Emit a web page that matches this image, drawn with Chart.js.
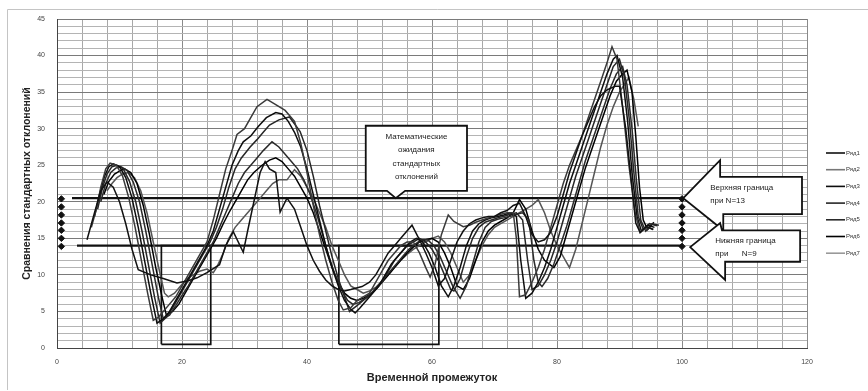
<!DOCTYPE html>
<html>
<head>
<meta charset="utf-8">
<script src="https://cdn.jsdelivr.net/npm/chart.js@4/dist/chart.umd.min.js"></script>
<style>
  html, body { margin: 0; padding: 0; background: #fff; }
</style>
</head>
<body>
<canvas id="myChart" width="868" height="391"></canvas>
<script>
// series as [x, y]
const ryad1 = [[4.8,14.8],[6,18.5],[7,21.5],[8,22.7],[9,22],[10,20],[11,17],[12,13.5],[13,10.7],[15,10],[17,9.5],[19.2,8.9],[21,9.2],[22.4,9.6],[24,10.3],[26,11.4],[27,14],[28.2,15.9],[29.8,13.1],[30.5,16],[31.5,20],[32.5,24],[33.3,25.5],[34,24.5],[35,24],[35.7,18.6],[36.8,20.5],[38,19],[39,16.5],[40,14],[41,12],[42,10.5],[43,9.3],[44,8.5],[45,8],[46,7.8],[47,8],[48.8,8.4],[50,9],[51,10],[52,11.5],[53,13],[54,14],[55,15],[56.8,16.8],[58,14.8],[59,13],[60,11],[61,8.5],[62,9.5],[63,12],[64,14.5],[65,16],[66,17],[67,17.5],[68,17.8],[69,18],[70,18],[71,18.5],[72,18.8],[73,19.5],[74,19.8],[75,18],[76,15.5],[77,14.5],[78,14.8],[78.9,15.7],[80,18],[81,21],[82,24],[83,26.5],[84,29],[85,31],[86,33],[87,34.5],[88,35.3],[89.3,35.8],[90,35.8],[91,30],[92,22],[92.6,17.1],[93.3,15.8],[94.3,16.6],[95.4,16.2]];
const ryad2 = [[5.5,16.5],[6.3,19],[7,22],[7.8,24.5],[8.5,25.3],[9.5,25],[10.5,23.5],[11.5,20.5],[12.5,16.5],[13.5,12],[14.5,7.5],[15.4,3.8],[16.2,4.2],[17,5],[18,6],[19,7],[20,8.5],[21,10],[22,11.5],[23,13],[24,14.5],[25,17.5],[26,21],[27,24.5],[28,27],[28.8,29.2],[30,30],[31,31.5],[32,33],[33.6,34],[35,33.3],[36.5,32.5],[38,31],[39,28],[40,24],[41,19.5],[42,15.5],[43,12],[44,9],[45,6.5],[45.8,5.2],[47,5.5],[48,6.5],[49,7],[50,7.5],[51,9],[52,10.5],[53,12],[54,13],[55,14],[56,14.5],[57,14.5],[58,13],[59,11],[59.7,9.7],[60.5,11.5],[61.5,15.5],[62.6,18.2],[63.5,17.3],[65,16.6],[66,16.8],[67,17.2],[68,17.5],[69,17.8],[70,18],[71,18.3],[72,18.5],[73,18.5],[73.5,15],[74,7],[75,7.3],[76,9],[77,11],[78,13.5],[79,16.5],[80,19.5],[81,22.5],[82,25],[83,27],[84,29],[85,31.5],[86,34],[87,36.5],[88,39],[88.8,41.2],[89.6,39.5],[90.5,33],[91.5,25],[92.5,18.5],[93.3,15.8],[94.3,16.6],[95.4,16.2]];
const ryad3 = [[6,18],[6.8,21],[7.6,23.5],[8.3,24.8],[9,25.2],[10,24.8],[11,23.3],[12,20.5],[13,16.5],[14,12],[15,7.5],[16,3.4],[17,4],[18,5],[19,6.5],[20,8],[21,9.5],[22,11],[23,12.5],[24,14],[25,16],[26,19],[27,22],[28,25],[29,27],[29.8,28.2],[31,29],[32.2,30.3],[33.5,31.5],[35,32.2],[36,32],[37,31],[38,29.5],[39,27.5],[40,24.5],[41,21],[42,17.5],[43,14],[44,11],[45,8.5],[46,6.5],[47,5.3],[47.7,4.8],[48.5,5.5],[49.5,6.5],[50.5,7.5],[51.5,8.5],[52.5,10],[53.5,11.5],[54.5,12.5],[55.5,13.5],[56.5,14.5],[57.5,15],[58.5,14.5],[59.5,13],[60.5,11],[61.5,8.5],[62.6,7],[63.5,8.5],[64.5,11],[65.5,14],[66.5,16],[67.5,17],[68.5,17.5],[69.5,17.8],[70.5,18],[71.5,18.2],[72.5,18.5],[73.5,18],[74.2,12],[75,6.8],[76,7.5],[77,9],[78,11],[79,13.5],[80,16.5],[81,19.5],[82,22.5],[83,25],[84,27.5],[85,30],[86,32.5],[87,35],[88,37.5],[89,39.5],[89.6,40],[90.5,37],[91.3,31],[92,24],[92.8,18],[93.5,16],[94.5,16.8],[95.6,16.5]];
const ryad4 = [[6.5,19],[7.3,22],[8,23.8],[8.8,24.8],[9.6,25],[10.6,24.5],[11.6,22.8],[12.6,20],[13.6,16],[14.6,11.5],[15.6,7],[16.5,3.4],[17.5,4.2],[18.5,5.5],[19.5,7],[20.5,8.5],[21.5,10],[22.5,11.5],[23.5,13],[24.5,14.5],[25.5,16.5],[26.5,19],[27.5,22],[28.5,24.5],[29.5,26],[30.9,27.5],[32,28.5],[33,29.5],[34,30.5],[35.5,31.2],[37.2,31.6],[38.9,29.6],[40,27],[41,23.5],[42,19.5],[43,16],[44,12.5],[45,9.5],[46,7],[46.8,5],[48,5.8],[49,6.5],[50,7.2],[51,8],[52,9],[53,10.5],[54,12],[55,13],[56,14],[57,14.5],[58,15],[59,14.5],[60,13.5],[61,12],[62,10],[63,8],[63.5,7.8],[64.5,9.5],[65.5,12.5],[66.5,15],[67.5,16.5],[68.5,17.2],[69.5,17.5],[70.5,17.8],[71.5,18],[72.5,18.3],[73.5,18.5],[74.5,17.5],[75.3,12],[76,8],[77,8.5],[78,10],[79,12],[80,14.5],[81,17.5],[82,20.5],[83,23.5],[84,26],[85,28.5],[86,31],[87,33.5],[88,36],[89,38.5],[90,39.5],[90.8,37],[91.6,31],[92.3,24],[93,18],[93.8,16.2],[94.8,17],[96,16.7]];
const ryad5 = [[7,20],[7.8,22.5],[8.6,24],[9.4,24.6],[10.2,24.8],[11.2,24.3],[12.2,22.7],[13.2,20],[14.2,16],[15.2,11.5],[16.2,7],[17,4],[18,4.5],[19,5.8],[20,7.2],[21,8.5],[22,10],[23,11.5],[24,13],[25,14.5],[26,16.5],[27,18.5],[28,20.5],[29,22.5],[30,24],[31,25],[32,26],[33,27],[34.4,28.2],[35.5,27.5],[36.5,26.5],[37.5,25.5],[38.5,24.5],[39.5,23],[40.5,21],[41.5,18.5],[42.5,15.5],[43.5,12.5],[44.5,10],[45.5,8],[46.5,6.5],[47.3,6],[48.3,6.2],[49.3,6.8],[50.3,7.5],[51.3,8.5],[52.3,9.5],[53.3,10.5],[54.3,11.5],[55.3,12.5],[56.3,13.5],[57.3,14.2],[58.3,14.8],[59.3,14.8],[60.3,14],[61.3,12.5],[62.3,10.5],[63.3,8.5],[64.5,6.8],[65.5,8.5],[66.5,11.5],[67.5,14.5],[68.5,16.5],[69.5,17.3],[70.5,17.6],[71.5,17.8],[72.5,18],[73.5,18.3],[74.5,18.5],[75.5,17.5],[76.3,12],[77,9],[77.6,8.4],[78.5,9.5],[79.5,11.5],[80.5,14],[81.5,16.5],[82.5,19.5],[83.5,22.5],[84.5,25.5],[85.5,28],[86.5,30.5],[87.5,33],[88.5,35.5],[89.5,37.5],[90.5,38.5],[91.2,36],[92,30],[92.7,23],[93.4,17.5],[94.2,16],[95.2,17],[96.3,16.8]];
const ryad6 = [[7.5,21],[8.3,22.8],[9.2,23.8],[10,24.2],[10.8,24.5],[11.8,24],[12.8,22.5],[13.8,19.5],[14.8,15.5],[15.8,11],[16.8,7],[17.5,4.5],[18.5,5],[19.5,6],[20.5,7.5],[21.5,9],[22.5,10.5],[23.5,12],[24.5,13.5],[25.5,15],[26.6,17],[27.5,18.5],[28.5,20],[29.5,21.5],[30.5,23],[31.5,24],[32.8,25],[34,25.7],[35,26],[36,25.5],[37,24.5],[38,23.5],[39,22],[40,20.5],[41,18.5],[42,16],[43,13.5],[44,11],[45,9],[46,7.5],[47,6.8],[48,6.5],[49,6.8],[50,7.3],[51,8],[52,9],[53,10],[54,11],[55,12],[56,13],[57,13.8],[58,14.5],[59,14.8],[60,15],[61,14.5],[62,13],[63,11],[64,8.5],[65,8],[66,9.5],[67,12],[68,14.5],[69,16],[70,16.8],[71,17.3],[72,17.8],[73,18.5],[74,20.3],[75,19],[76,16],[77,13.5],[78,12],[79.5,11],[80.5,12.5],[81.5,15.5],[82.5,18.5],[83.5,21.5],[84.5,24.5],[85.5,27],[86.5,29.5],[87.5,32],[88.5,34.5],[89.5,36.5],[90.5,37.5],[91.2,38],[92,35],[92.6,29],[93.2,22],[93.8,17.5],[94.5,16.2],[95.5,17.2]];
const ryad7 = [[8,21.5],[8.8,22.5],[9.6,23.3],[10.5,23.8],[11.4,24],[12.4,23.3],[13.4,21.5],[14.4,18.5],[15.4,14.5],[16.4,10.5],[17.2,7.5],[17.8,7],[18.8,7.5],[19.8,8.5],[20.8,9.5],[21.8,10],[22.8,10.5],[24,10.8],[25,10.3],[25.6,11.1],[26.6,13],[27.5,15],[28.5,16.5],[29.5,17.5],[30.5,18.5],[31.5,19.5],[32.5,20.5],[33.5,21.5],[34.5,22.5],[35.5,23],[36.8,23],[38,24.4],[39,23.5],[40,22],[41,20.5],[42,18.5],[43,16.5],[44,14],[45,12],[46,10],[47,8.5],[48,8],[49,7.5],[50,7.8],[51,8.3],[52,9],[53,10],[54,11],[55,12],[56,12.8],[57,13.5],[58,14],[59,14.5],[60,15],[61,15.3],[62,14.5],[63,13],[64,11],[65,9],[66,10],[67,12],[68,14],[69,15.5],[70,16.5],[71,17],[72,17.5],[73,18],[74,18.5],[75,19],[76,19.5],[77,20.3],[78,18.5],[79,16],[80,14],[81,12.5],[82,11],[83,13.5],[84,17],[85,20.5],[86,24],[87,27.5],[88,30.5],[89,33],[90,35],[91.5,37],[92.3,34],[93,30.3]];

const seriesNames = ['Ряд1', 'Ряд2', 'Ряд3', 'Ряд4', 'Ряд5', 'Ряд6', 'Ряд7'];
const seriesColors = ['#111', '#3a3a3a', '#0d0d0d', '#262626', '#2a2a2a', '#000', '#555'];

// bounds and boxes
const upperBound = [[2.4,20.5],[100,20.5]];
const lowerBound = [[3.2,14],[100,14]];
const boxLeft = [[16.7,0.5],[16.7,14],[24.6,14],[24.6,0.5],[16.7,0.5]];
const boxMid = [[45.1,0.5],[45.1,14],[61.1,14],[61.1,0.5],[45.1,0.5]];
const diamondX = [0.7, 100];
const diamondY = [13.9, 15, 16.1, 17.1, 18.2, 19.3, 20.4];

const calloutText = ['Математические', 'ожидания', 'стандартных', 'отклонений'];
const upperText = ['Верхняя граница', 'при N=13'];
const lowerText = ['Нижняя граница', 'при      N=9'];

const font = '"Liberation Sans", Arial, sans-serif';

function pts(arr) {
  return arr.map(p => ({x: p[0], y: p[1]}))
}

let datasets = []
const allSeries = [ryad1, ryad2, ryad3, ryad4, ryad5, ryad6, ryad7]
for (let i = 0; i < allSeries.length; i++) {
  datasets.push({
    label: seriesNames[i],
    data: pts(allSeries[i]),
    borderColor: seriesColors[i],
    borderWidth: 1.5,
    pointRadius: 0,
    tension: 0,
    fill: false
  })
}
const extra = [upperBound, lowerBound, boxLeft, boxMid]
for (let i = 0; i < extra.length; i++) {
  datasets.push({
    label: '',
    data: pts(extra[i]),
    borderColor: '#111',
    borderWidth: i < 2 ? 2.3 : 1.7,
    pointRadius: 0,
    tension: 0,
    fill: false
  })
}
let diamonds = []
diamondX.forEach(x => diamondY.forEach(y => diamonds.push({x: x, y: y})))
datasets.push({
  type: 'scatter',
  label: '',
  data: diamonds,
  pointStyle: 'rectRot',
  pointRadius: 3.2,
  backgroundColor: '#111',
  borderColor: '#111',
  borderWidth: 1,
  clip: false
})

function pathOf(ctx, X, Y, list) {
  ctx.beginPath()
  list.forEach((p, i) => {
    if (i === 0) ctx.moveTo(X(p[0]), Y(p[1]))
    else ctx.lineTo(X(p[0]), Y(p[1]))
  })
  ctx.closePath()
  ctx.fillStyle = '#fff'
  ctx.fill()
  ctx.strokeStyle = '#111'
  ctx.lineWidth = 1.8
  ctx.stroke()
}

const decor = {
  id: 'decor',
  beforeDraw(chart) {
    const ctx = chart.ctx
    ctx.save()
    ctx.strokeStyle = '#c4c4c4'
    ctx.lineWidth = 1
    ctx.beginPath()
    ctx.moveTo(7.5, 390)
    ctx.lineTo(7.5, 9.5)
    ctx.lineTo(868, 9.5)
    ctx.stroke()
    ctx.restore()
  },
  afterDatasetsDraw(chart) {
    const ctx = chart.ctx
    const sx = chart.scales.x, sy = chart.scales.y
    const X = v => sx.getPixelForValue(v), Y = v => sy.getPixelForValue(v)
    ctx.save()

    // callout
    pathOf(ctx, X, Y, [[49.4,30.4],[65.6,30.4],[65.6,21.5],[55.7,21.5],[54.2,20.5],[52.8,21.5],[49.4,21.5]])
    ctx.fillStyle = '#1a1a1a'
    ctx.font = '8px ' + font
    ctx.textAlign = 'center'
    ctx.textBaseline = 'middle'
    const cx = (X(49.4) + X(65.6)) / 2
    calloutText.forEach((t, i) => ctx.fillText(t, cx, Y(30.4) + 11 + i * 13.5))

    // arrows
    pathOf(ctx, X, Y, [[100.2,20.5],[106.1,25.7],[106.1,23.4],[119.2,23.4],[119.2,18.3],[106.6,18.3],[106.6,16.1]])
    pathOf(ctx, X, Y, [[101.3,13.8],[106.1,17.1],[106.4,16.1],[118.9,16.1],[118.9,11.8],[106.9,11.8],[106.9,9.3]])
    ctx.fillStyle = '#1a1a1a'
    ctx.font = '8px ' + font
    ctx.textAlign = 'left'
    upperText.forEach((t, i) => ctx.fillText(t, X(104.5), Y(21.9) + i * 13))
    lowerText.forEach((t, i) => ctx.fillText(t, X(105.3), Y(14.6) + i * 13))

    // legend
    const lx = chart.chartArea.right + 19
    ctx.font = '6px ' + font
    ctx.textBaseline = 'middle'
    seriesNames.forEach((n, i) => {
      const ly = 153 + i * 16.7
      ctx.strokeStyle = i === 6 ? '#999' : (i === 1 ? '#777' : seriesColors[i])
      ctx.lineWidth = 1.6
      ctx.beginPath()
      ctx.moveTo(lx, ly)
      ctx.lineTo(lx + 19, ly)
      ctx.stroke()
      ctx.fillStyle = '#333'
      ctx.fillText(n, lx + 20, ly)
    })
    ctx.restore()
  }
}

const ctx = document.getElementById('myChart').getContext('2d')
const myChart = new Chart(ctx, {
  type: 'line',
  data: { datasets: datasets },
  options: {
    responsive: false,
    animation: false,
    devicePixelRatio: 1,
    layout: { padding: { left: 0, top: 19, right: 61, bottom: 0 } },
    plugins: { legend: { display: false }, tooltip: { enabled: false } },
    scales: {
      x: {
        type: 'linear',
        min: 0,
        max: 120,
        afterFit: s => { s.height = 43 },
        ticks: {
          stepSize: 4,
          autoSkip: false,
          maxRotation: 0,
          padding: 10,
          color: '#444',
          font: { size: 7, family: font },
          callback: v => (v % 20 === 0 ? v : '')
        },
        grid: {
          drawTicks: false,
          color: c => (c.tick && c.tick.value % 20 === 0 ? '#8a8a8a' : '#a8a8a8'),
          lineWidth: 1
        },
        border: { color: '#444', width: 1 },
        title: {
          display: true,
          text: 'Временной промежуток',
          color: '#222',
          font: { size: 11, weight: 'bold', family: font },
          padding: { top: 0, bottom: 6 }
        }
      },
      y: {
        type: 'linear',
        min: 0,
        max: 45,
        afterFit: s => { s.width = 57 },
        ticks: {
          stepSize: 1,
          autoSkip: false,
          padding: 12,
          color: '#444',
          font: { size: 7, family: font },
          callback: v => (v % 5 === 0 ? v : '')
        },
        grid: {
          drawTicks: false,
          color: c => (c.tick && c.tick.value % 5 === 0 ? '#7a7a7a' : '#b4b4b4'),
          lineWidth: 1
        },
        border: { color: '#444', width: 1 },
        title: {
          display: true,
          text: 'Сравнения стандартных отклонений',
          color: '#222',
          font: { size: 10.5, weight: 'bold', family: font },
          padding: { top: 21, bottom: 0 }
        }
      }
    }
  },
  plugins: [decor]
})
</script>
</body>
</html>
